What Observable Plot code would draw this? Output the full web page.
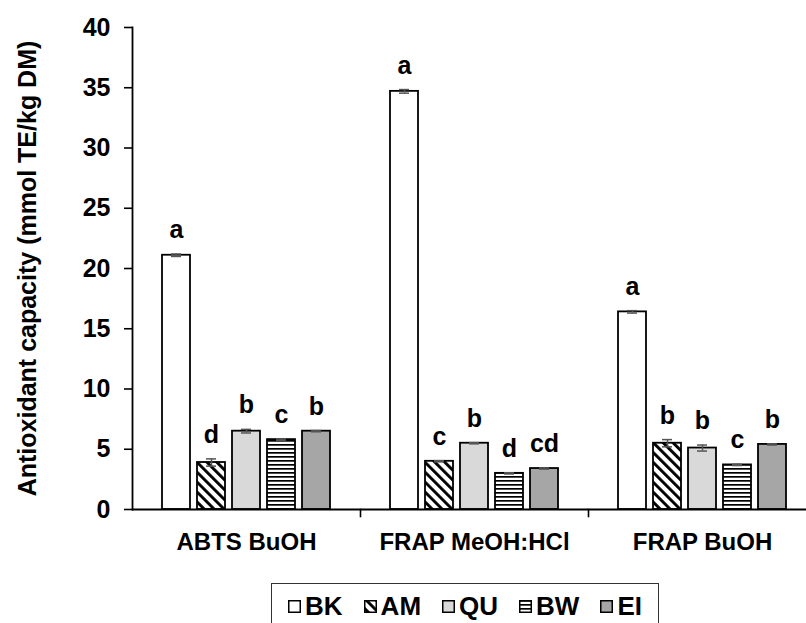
<!DOCTYPE html>
<html><head><meta charset="utf-8">
<script src="https://cdn.jsdelivr.net/npm/d3@7"></script>
<script src="https://cdn.jsdelivr.net/npm/@observablehq/plot@0.6"></script>
<style>
body{margin:0;background:#fff;overflow:hidden;font-family:"Liberation Sans",Arial,sans-serif;}
#chart{position:absolute;left:0;top:0;}
#legend{position:absolute;left:271px;top:583px;width:388px;height:46px;border:1.5px solid #333;box-sizing:border-box;display:flex;align-items:center;justify-content:center;gap:21px;font-weight:bold;font-size:26px;color:#000;}
.item{display:flex;align-items:center;gap:4px}
.item svg{display:block}
</style></head><body>
<svg width="0" height="0" style="position:absolute"><defs>
<pattern id="pat-diag" patternUnits="userSpaceOnUse" width="7" height="7" patternTransform="rotate(-45)"><rect width="7" height="7" fill="white"/><rect width="2.9" height="7" fill="black"/></pattern>
<pattern id="pat-horiz" patternUnits="userSpaceOnUse" width="8" height="4"><rect width="8" height="4" fill="white"/><rect y="0" width="8" height="1.7" fill="black"/></pattern>
</defs></svg>
<div id="chart"></div>
<div id="legend"></div>
<script>
const categories = ["ABTS BuOH", "FRAP MeOH:HCl", "FRAP BuOH"];
const series = ["BK", "AM", "QU", "BW", "EI"];
const abtsBuOH = [21.1, 3.9, 6.5, 5.8, 6.5];
const frapMeOHHCl = [34.7, 4.0, 5.5, 3.0, 3.4];
const frapBuOH = [16.4, 5.5, 5.1, 3.7, 5.4];
const abtsErr = [0.1, 0.3, 0.15, 0.05, 0.05];
const frapMeOHErr = [0.15, 0.05, 0.05, 0.05, 0.05];
const frapBuOHErr = [0.1, 0.3, 0.25, 0.05, 0.05];
const abtsLetters = ["a", "d", "b", "c", "b"];
const frapMeOHLetters = ["a", "c", "b", "d", "cd"];
const frapBuOHLetters = ["a", "b", "b", "c", "b"];
const yTicks = [0, 5, 10, 15, 20, 25, 30, 35, 40];
const yLabel = "Antioxidant capacity (mmol TE/kg DM)";

const seriesFill = {BK: "white", AM: "url(#pat-diag)", QU: "#d9d9d9", BW: "url(#pat-horiz)", EI: "#a6a6a6"};
const values = [abtsBuOH, frapMeOHHCl, frapBuOH];
const errors = [abtsErr, frapMeOHErr, frapBuOHErr];
const letters = [abtsLetters, frapMeOHLetters, frapBuOHLetters];

const rows = categories.flatMap((cat, i) => series.map((s, j) => ({
  cat, s, v: values[i][j], e: errors[i][j], l: letters[i][j]
})));

const chart = Plot.plot({
  width: 806, height: 575,
  marginTop: 27, marginBottom: 66, marginLeft: 132, marginRight: -10,
  style: {fontFamily: "'Liberation Sans', Arial, sans-serif", fontWeight: "bold", color: "black", background: "white"},
  fx: {domain: categories, padding: 0},
  x: {domain: series, paddingInner: 0.2, paddingOuter: 0.857, axis: null},
  y: {domain: [0, 40]},
  color: {type: "identity"},
  marks: [
    Plot.barY(rows, {fx: "cat", x: "s", y: "v", fill: d => seriesFill[d.s], stroke: "black", strokeWidth: 1.8}),
    Plot.ruleX(rows, {fx: "cat", x: "s", y1: d => d.v - d.e, y2: d => d.v + d.e, stroke: "#555", strokeWidth: 1.5}),
    Plot.tickY(rows, {fx: "cat", x: "s", y: d => d.v + d.e, stroke: "#555", strokeWidth: 1.5, inset: 9}),
    Plot.tickY(rows, {fx: "cat", x: "s", y: d => d.v - d.e, stroke: "#555", strokeWidth: 1.5, inset: 9}),
    Plot.text(rows, {fx: "cat", x: "s", y: d => d.v + d.e, text: "l", dy: -24, fontSize: 25, fontWeight: "bold", fill: "black"}),
    Plot.ruleY([0], {stroke: "black", strokeWidth: 1.8}),
    Plot.frame({anchor: "left", facetAnchor: "left", stroke: "black", strokeWidth: 1.8}),
    Plot.frame({anchor: "right", insetTop: 482, insetBottom: -7, stroke: "black", strokeWidth: 1.6}),
    Plot.axisY({ticks: yTicks, tickSize: 8, tickPadding: 14, fontSize: 25, fontWeight: "bold",
      label: yLabel, labelArrow: "none", labelAnchor: "center", labelOffset: 114, tickFormat: d => d, stroke: "black", strokeWidth: 1.6}),
    Plot.axisFx({anchor: "bottom", tickSize: 0, tickPadding: 23, fontSize: 24, fontWeight: "bold", label: null})
  ]
});
document.getElementById("chart").appendChild(chart);

const legend = document.getElementById("legend");
for (const s of series) {
  const item = document.createElement("div");
  item.className = "item";
  item.innerHTML = `<svg width="13" height="13"><rect x="0.75" y="0.75" width="11.5" height="11.5" fill="${seriesFill[s]}" stroke="black" stroke-width="1.5"/></svg><span>${s}</span>`;
  legend.appendChild(item);
}
</script>
</body></html>
